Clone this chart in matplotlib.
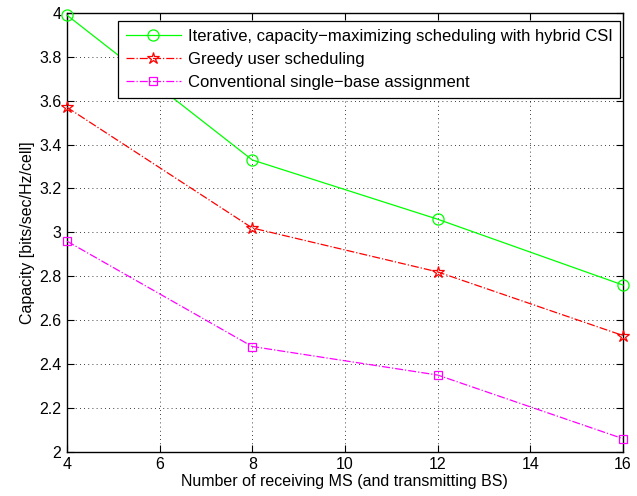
import numpy as np
import matplotlib
matplotlib.use("Agg")
import matplotlib.pyplot as plt

plt.rcParams['font.family'] = ['Liberation Sans', 'DejaVu Sans']

# Data
n_ms = [4, 8, 12, 16]
cap_iterative = [3.99, 3.33, 3.06, 2.76]
cap_greedy = [3.57, 3.02, 2.82, 2.53]
cap_conventional = [2.96, 2.48, 2.35, 2.06]

labels = ["Iterative, capacity\u2212maximizing scheduling with hybrid CSI",
          "Greedy user scheduling",
          "Conventional single\u2212base assignment"]

fig = plt.figure(figsize=(6.37, 4.96), dpi=100)
ax = fig.add_axes([0.105, 0.089, 0.873, 0.885])

ax.plot(n_ms, cap_iterative, color=(0, 1, 0), linestyle='-', linewidth=0.9,
        marker='o', markersize=8, markerfacecolor='none', markeredgewidth=0.9,
        label=labels[0], clip_on=False, zorder=3)
ax.plot(n_ms, cap_greedy, color='red', linestyle='-.', linewidth=0.9,
        marker='*', markersize=9, markerfacecolor='none', markeredgewidth=0.9,
        label=labels[1], clip_on=False, zorder=3)
ax.plot(n_ms, cap_conventional, color='magenta', linestyle='-.', linewidth=0.9,
        marker='s', markersize=6, markerfacecolor='none', markeredgewidth=0.9,
        label=labels[2], clip_on=False, zorder=3)

ax.set_xlim(4, 16)
ax.set_ylim(2, 4)
ax.set_xticks(np.arange(4, 17, 2))
ax.set_yticks(np.arange(2, 4.01, 0.2))
ax.set_yticklabels(["2", "2.2", "2.4", "2.6", "2.8", "3", "3.2", "3.4", "3.6", "3.8", "4"])
ax.grid(True, color='black', linestyle=(0, (1, 4)), linewidth=0.6)
ax.tick_params(direction='in', top=True, right=True, labelsize=11.5, length=5, pad=4)
for s in ax.spines.values():
    s.set_linewidth(1.0)

ax.set_xlabel("Number of receiving MS (and transmitting BS)", fontsize=11.5, labelpad=1)
ax.set_ylabel("Capacity [bits/sec/Hz/cell]", fontsize=11.5, labelpad=3)

leg = ax.legend(loc='upper right', bbox_to_anchor=(620 / 637, (496 - 21) / 496),
                bbox_transform=fig.transFigure, fontsize=12, fancybox=False,
                framealpha=1, edgecolor='black', borderaxespad=0,
                handlelength=3.3, handletextpad=0.4, labelspacing=0.5,
                borderpad=0.45)
leg.get_frame().set_linewidth(0.9)

fig.savefig("out.png", dpi=100)
